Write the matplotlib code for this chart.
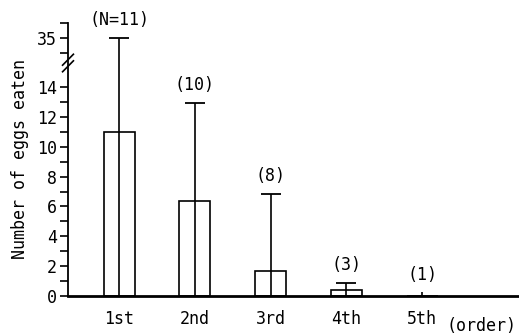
import matplotlib
matplotlib.use("Agg")
import matplotlib.pyplot as plt
import numpy as np

plt.rcParams["font.family"] = "DejaVu Sans Mono"

orders = ["1st", "2nd", "3rd", "4th", "5th"]
means = [11.0, 6.4, 1.67, 0.4, 0.0]
upper = [35.0, 12.95, 6.85, 0.9, 0.25]
counts = ["(N=11)", "(10)", "(8)", "(3)", "(1)"]

# broken y axis: 0..15.5 shown as is, 15.5..33.2 squeezed out
B0, B1, EPS = 15.5, 33.2, 0.001


def fwd(y):
    y = np.asarray(y, dtype=float)
    return np.where(y < B0, y,
                    np.where(y < B1, B0 + EPS * (y - B0),
                             B0 + EPS * (B1 - B0) + (y - B1)))


def inv(v):
    v = np.asarray(v, dtype=float)
    top = B0 + EPS * (B1 - B0)
    return np.where(v < B0, v,
                    np.where(v < top, B0 + (v - B0) / EPS, B1 + (v - top)))


fig = plt.figure(figsize=(5.19, 3.34), dpi=100)
ax = fig.add_axes([68 / 519, 38 / 334, 1 - 68 / 519, (296 - 22.7) / 334])
ax.set_yscale("function", functions=(fwd, inv))

x = np.arange(1, len(orders) + 1)
ax.bar(x, means, width=0.41, facecolor="white", edgecolor="black", linewidth=1.2, zorder=2)
ax.vlines(x, 0, upper, color="black", linewidth=1.2, zorder=3)
ax.plot(x[:4], upper[:4], linestyle="none", marker="_", markersize=15,
        markeredgewidth=1.3, color="black", zorder=3)

for xi, top, lab in zip(x, upper, counts):
    ax.annotate(lab, (xi, top), xytext=(0, 6), textcoords="offset points",
                ha="center", va="bottom", fontsize=12)

ax.set_xlim(0.325, 6.28)
ax.set_ylim(0, 36)
ax.set_xticks(x)
ax.set_xticklabels(orders, fontsize=12)
ax.tick_params(axis="x", length=0, pad=10)
ax.set_yticks([0, 2, 4, 6, 8, 10, 12, 14, 35])
ax.set_yticks([1, 3, 5, 7, 9, 11, 13, 34, 36], minor=True)
ax.tick_params(axis="y", which="both", direction="out", length=6, width=1.2, labelsize=12, pad=2)

for s in ["top", "right"]:
    ax.spines[s].set_visible(False)
ax.spines["left"].set_linewidth(1.3)
ax.spines["bottom"].set_linewidth(2.0)

ax.set_ylabel("Number of eggs eaten", fontsize=12, labelpad=6)
fig.text(516 / 519, 1 - 326 / 334, "(order)", ha="right", va="center", fontsize=12)

# break marks on the y axis
yb = 1 - (63 - 22.7) / (296 - 22.7)
for dy in (-0.012, 0.012):
    ax.plot([-0.012, 0.012], [yb + dy - 0.02, yb + dy + 0.02], transform=ax.transAxes,
            color="black", linewidth=1.2, clip_on=False)

fig.savefig("out.png", dpi=100)
